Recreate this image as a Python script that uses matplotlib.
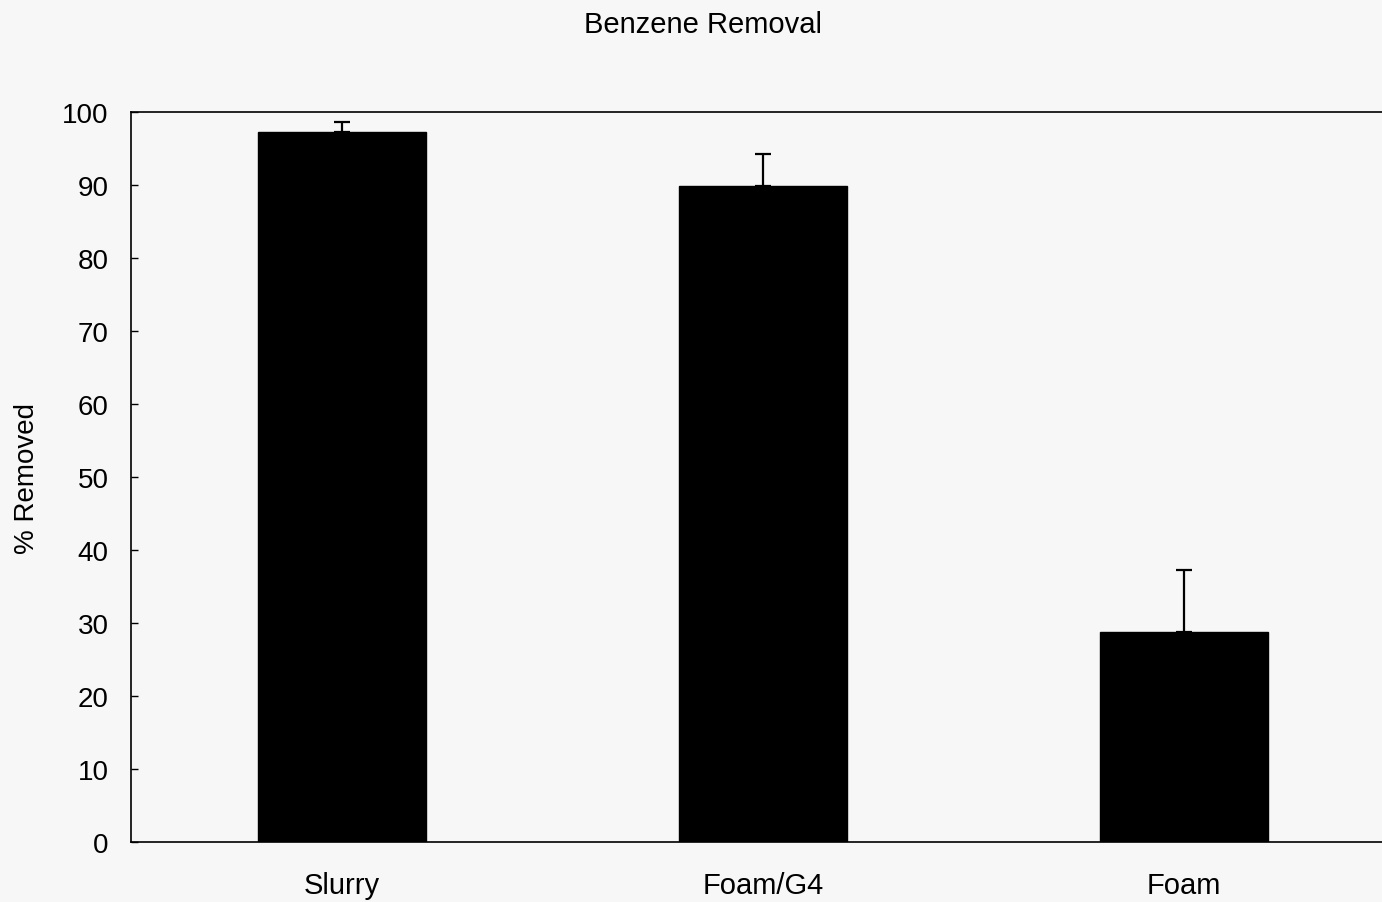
import matplotlib
matplotlib.use("Agg")
import matplotlib.pyplot as plt

categories = ["Slurry", "Foam/G4", "Foam"]
values = [97.3, 89.9, 28.8]
errors = [1.3, 4.3, 8.5]
yticks = [0, 10, 20, 30, 40, 50, 60, 70, 80, 90, 100]

plt.rcParams['font.family'] = ['Liberation Sans', 'DejaVu Sans']
bg = '#f7f7f7'
fig = plt.figure(figsize=(13.82, 9.03), dpi=100, facecolor=bg)
ax = fig.add_axes([131/1382, 1-843/903, 1-131/1382, (843-113)/903], facecolor=bg)

x = list(range(len(categories)))
ax.bar(x, values, width=0.40, color='black', edgecolor='black', zorder=2)
ax.errorbar(x, values, yerr=[[0]*len(errors), errors], fmt='none', ecolor='black',
            elinewidth=1.6, capsize=6, capthick=1.6, zorder=3)

ax.set_xlim(-0.501, 2.47)
ax.set_ylim(0, 100)
ax.set_yticks(yticks)
ax.set_yticklabels([str(t) for t in yticks], fontsize=20)
ax.set_xticks(x)
ax.set_xticklabels(categories, fontsize=21)
ax.tick_params(axis='y', direction='in', length=5, width=1, pad=16)
ax.tick_params(axis='x', length=0, pad=21)
ax.spines['right'].set_visible(False)
for s in ['left', 'top', 'bottom']:
    ax.spines[s].set_linewidth(1.2)
ax.set_ylabel("% Removed", fontsize=20)
ax.yaxis.set_label_coords(-0.073, 0.5)
fig.text(703/1382, 1-25/903, "Benzene Removal", ha='center', va='center', fontsize=21)

fig.savefig("out.png", dpi=100, facecolor=bg)
